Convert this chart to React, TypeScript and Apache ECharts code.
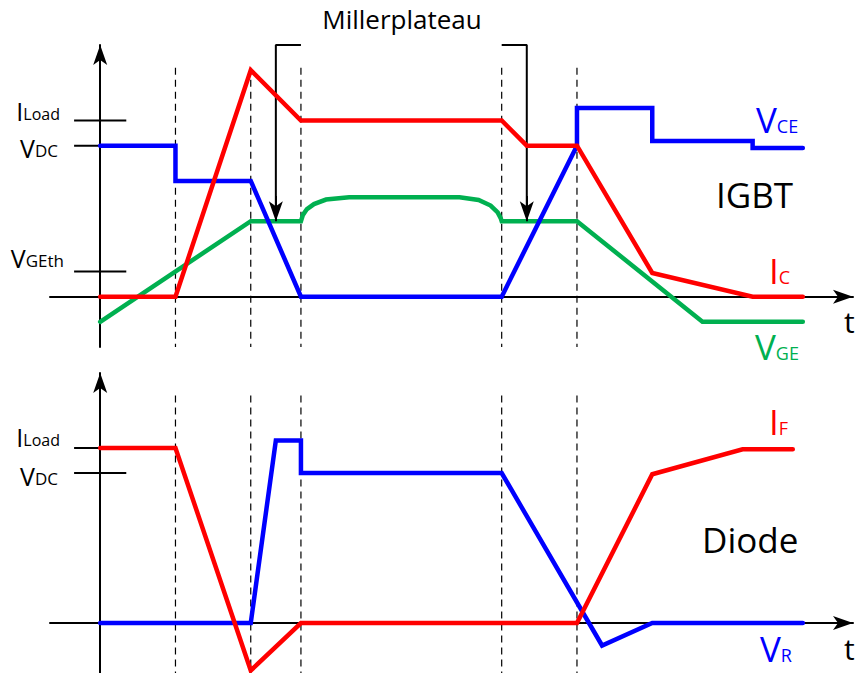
import React, { useEffect, useRef } from "react";
import * as echarts from "echarts";

// ---------- data (time in arbitrary units, values in arbitrary units) ----------
const phaseTimes = [7.5, 15, 20, 40, 47.5];

// IGBT panel
const icData: number[][] = [[0, 0], [7.5, 0], [15, 9], [20, 7], [40, 7], [42.5, 6], [47.5, 6], [55, 0.94], [65, 0], [70, 0]];
const vceData: number[][] = [[0, 6], [7.5, 6], [7.5, 4.6], [15, 4.6], [20, 0], [40, 0], [47.5, 6], [47.5, 7.5], [55, 7.5], [55, 6.19], [65, 6.19], [65, 5.91], [70, 5.91]];
const vgeData: number[][] = [[0, -1], [15, 3], [20, 3], [20.2, 3.25], [20.6, 3.48], [21.3, 3.68], [22.5, 3.86], [24.8, 3.95], [35.8, 3.95], [37.7, 3.84], [38.9, 3.62], [39.6, 3.35], [39.9, 3.12], [40, 3], [47.5, 3], [60, -1], [70, -1]];

// Diode panel
const ifData: number[][] = [[0, 7], [7.5, 7], [15, -1.9], [20, 0], [47.5, 0], [55, 5.95], [64, 6.95], [69, 6.95]];
const vrData: number[][] = [[0, 0], [15, 0], [17.5, 7.3], [20, 7.3], [20, 6], [40, 6], [50, -0.9], [55, 0], [70, 0]];

// tick levels
const topTicks = [7, 6, 1]; // I_Load, V_DC, V_GEth
const bottomTicks = [7, 6]; // I_Load, V_DC

// Miller plateau brackets: [bracket start t, arrow t, top level, plateau level]
const millerBrackets: number[][] = [[20, 17.5, 10, 3], [40, 42.5, 10, 3]];

const RED = "#ff0000";
const BLUE = "#0000ff";
const GREEN = "#00b050";
const FONT = '"Open Sans", "Noto Sans", sans-serif';

function txt(x: number, baseline: number, text: string, size: number, color: string, align = "left") {
  return {
    type: "text",
    x,
    y: baseline - 0.388 * size,
    silent: true,
    style: { text, fontSize: size, fontFamily: FONT, fill: color, align, verticalAlign: "middle" },
  };
}

function subTxt(x: number, baseline: number, main: string, s: string, F: number, f: number, color: string, align = "left") {
  return {
    type: "text",
    x,
    y: baseline - 0.388 * F,
    silent: true,
    style: {
      text: `{m|${main}}{s|${s}}`,
      align,
      verticalAlign: "middle",
      fill: color,
      fontFamily: FONT,
      fontSize: F,
      rich: {
        m: { fontSize: F, fontFamily: FONT, fill: color, verticalAlign: "bottom" },
        s: { fontSize: f, fontFamily: FONT, fill: color, verticalAlign: "bottom", padding: [0, 0, 2, 0] },
      },
    },
  };
}

function axisPair(gridIndex: number) {
  const axisLine = {
    show: true,
    onZero: true,
    symbol: ["none", "arrow"],
    symbolSize: [10.5, 20],
    lineStyle: { color: "#000", width: 2 },
  };
  const common = {
    gridIndex,
    type: "value" as const,
    axisLine,
    axisTick: { show: false },
    axisLabel: { show: false },
    splitLine: { show: false },
  };
  return {
    x: { ...common, min: -5, max: 75 },
    y: { ...common, min: -2, max: 10 },
  };
}

function wave(data: number[][], color: string, gi: number, z = 3) {
  return {
    type: "line",
    xAxisIndex: gi,
    yAxisIndex: gi,
    data,
    symbol: "none",
    silent: true,
    z,
    clip: false,
    lineStyle: { color, width: 4.5, cap: "round", join: "miter" },
  };
}

function plain(data: number[][], gi: number, extra: any = {}) {
  return {
    type: "line",
    xAxisIndex: gi,
    yAxisIndex: gi,
    data,
    symbol: "none",
    silent: true,
    clip: false,
    z: 1,
    lineStyle: { color: "#000", width: 2, ...extra },
  };
}

export default function App() {
  const ref = useRef<HTMLDivElement>(null);

  useEffect(() => {
    document.body.style.margin = "0";
    if (!ref.current) return;
    const chart = echarts.init(ref.current, undefined, { renderer: "svg" });

    const a0 = axisPair(0);
    const a1 = axisPair(1);

    const series: any[] = [];
    // tick marks
    topTicks.forEach((v) => series.push(plain([[-2.6, v], [2.6, v]], 0)));
    bottomTicks.forEach((v) => series.push(plain([[-2.6, v], [2.6, v]], 1)));
    // dashed phase lines
    phaseTimes.forEach((t) => {
      series.push(plain([[t, 9.1], [t, -2]], 0, { width: 1.2, type: [7, 5] }));
      series.push(plain([[t, 9.1], [t, -2]], 1, { width: 1.2, type: [7, 5] }));
    });
    // Miller plateau brackets with arrows
    millerBrackets.forEach(([t0, ta, top, lvl]) => {
      series.push({
        ...plain([[t0, top], [ta, top], [ta, lvl + 0.5]], 0),
        markLine: {
          silent: true,
          symbol: ["none", "arrow"],
          symbolSize: [10.5, 20],
          label: { show: false },
          emphasis: { disabled: true },
          lineStyle: { color: "#000", width: 2, type: "solid" },
          data: [[{ coord: [ta, lvl + 1] }, { coord: [ta, lvl] }]],
        },
      });
    });
    // waveforms (IGBT)
    series.push(wave(vgeData, GREEN, 0, 3));
    series.push(wave(vceData, BLUE, 0, 4));
    series.push(wave(icData, RED, 0, 5));
    // waveforms (Diode)
    series.push(wave(vrData, BLUE, 1, 4));
    series.push(wave(ifData, RED, 1, 5));

    const graphic: any[] = [
      txt(402, 29, "Millerplateau", 26, "#000", "center"),
      // left tick labels, IGBT
      subTxt(60, 121, "I", "Load", 25, 16, "#000", "right"),
      subTxt(58, 158, "V", "DC", 25, 17, "#000", "right"),
      subTxt(64, 268, "V", "GEth", 25, 17, "#000", "right"),
      // left tick labels, Diode
      subTxt(60, 447, "I", "Load", 25, 16, "#000", "right"),
      subTxt(58, 486, "V", "DC", 25, 17, "#000", "right"),
      // series names
      subTxt(756, 133, "V", "CE", 35, 18, BLUE),
      subTxt(769, 284, "I", "C", 35, 18, RED),
      subTxt(755, 360, "V", "GE", 35, 18, GREEN),
      subTxt(769, 435, "I", "F", 35, 18, RED),
      subTxt(760, 662, "V", "R", 35, 18, BLUE),
      // panel names
      txt(716, 208, "IGBT", 35, "#000"),
      txt(702, 553, "Diode", 35, "#000"),
      // time axis names
      txt(844, 333, "t", 30, "#000"),
      txt(844, 660, "t", 30, "#000"),
    ];

    chart.setOption({
      animation: false,
      backgroundColor: "#fff",
      grid: [
        { left: 50, top: 45, width: 803, height: 302, show: false },
        { left: 50, top: 373, width: 803, height: 302, show: false },
      ],
      xAxis: [a0.x, a1.x],
      yAxis: [a0.y, a1.y],
      series,
      graphic,
    });

    return () => chart.dispose();
  }, []);

  return <div ref={ref} style={{ width: 856, height: 673 }} />;
}
